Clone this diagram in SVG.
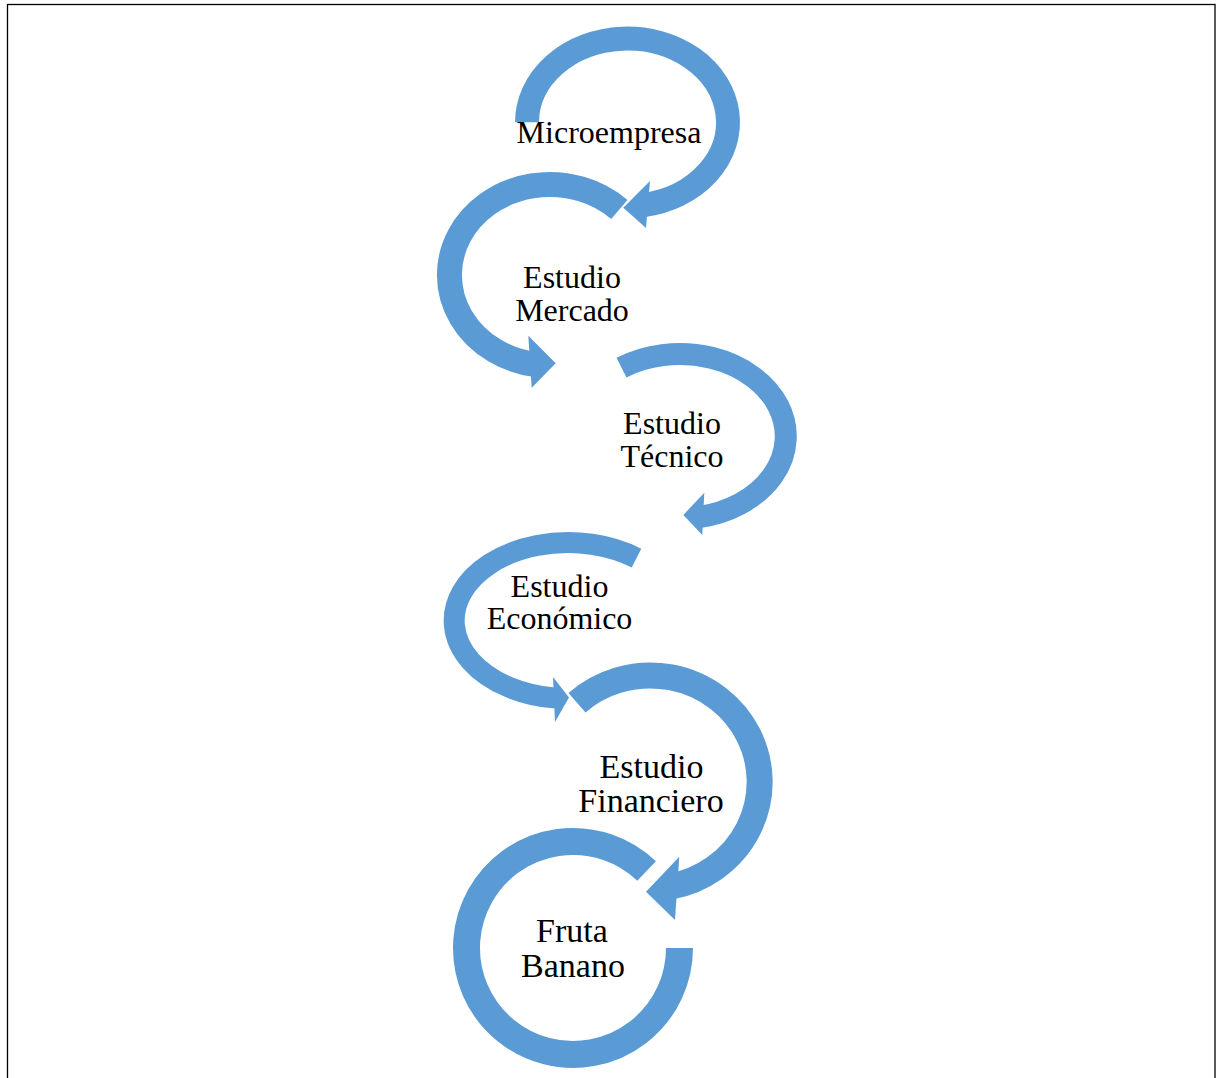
<svg xmlns="http://www.w3.org/2000/svg" width="1216" height="1078" viewBox="0 0 1216 1078">
  <style>
    .arc { fill: none; stroke: #5B9BD5; stroke-linecap: butt; }
    .head { fill: #5B9BD5; stroke: none; }
    .lbl { font-family: "Liberation Serif", "Times New Roman", serif; fill: #000000; text-anchor: middle; }
    .s32 { font-size: 32px; }
    .s34 { font-size: 34px; }
  </style>
  <defs>
    <filter id="soft" x="-10%" y="-10%" width="120%" height="120%">
      <feGaussianBlur stdDeviation="0.7"/>
    </filter>
  </defs>
  <rect x="7.5" y="4.5" width="1207.5" height="1100" fill="#FFFFFF" stroke="#000000" stroke-width="1.3"/>

  <g id="connectors"></g>

  <g id="node-microempresa">
    <path class="arc" stroke-width="24" d="M 527 122.3 A 100.5 83.8 0 1 1 644 205"/>
    <polygon class="head" points="650,181 623.3,207.7 646,228"/>
    <text class="lbl s32" x="609" y="143">Microempresa</text>
  </g>

  <g id="node-estudio-mercado">
    <path class="arc" stroke-width="25" d="M 619.3 209.5 A 100.5 90.5 0 1 0 536 364.6"/>
    <polygon class="head" points="528.3,335.7 555.7,363.3 531.7,387.7"/>
    <text class="lbl s32" x="572" y="288">Estudio</text>
    <text class="lbl s32" x="572" y="320.5">Mercado</text>
  </g>

  <g id="node-estudio-tecnico">
    <g filter="url(#soft)">
      <path class="arc" stroke-width="22" d="M 621.5 367.6 A 106 82.2 0 1 1 699 517.1"/>
      <polygon class="head" points="704.3,492.7 683.3,515 702.3,535"/>
    </g>
    <text class="lbl s32" x="672" y="434">Estudio</text>
    <text class="lbl s32" x="672" y="466.5">Técnico</text>
  </g>

  <g id="node-estudio-economico">
    <path class="arc" stroke-width="21" d="M 636.5 558.1 A 114 78 0 1 0 556 698.1"/>
    <polygon class="head" points="553,677 569,697.5 555,722"/>
    <text class="lbl s32" x="559.5" y="596.5">Estudio</text>
    <text class="lbl s32" x="559.5" y="629">Económico</text>
  </g>

  <g id="node-estudio-financiero">
    <path class="arc" stroke-width="26" d="M 577 702.7 A 109.5 106.5 0 1 1 671 886.5"/>
    <polygon class="head" points="679.3,856.7 646,891.7 675,920"/>
    <text class="lbl s34" x="651.5" y="777.5">Estudio</text>
    <text class="lbl s34" x="651" y="811.5">Financiero</text>
  </g>

  <g id="node-fruta-banano">
    <path class="arc" stroke-width="27" d="M 679.5 948 A 106.5 106.5 0 1 1 646.6 871"/>
    <text class="lbl s34" x="572" y="941.5">Fruta</text>
    <text class="lbl s34" x="573" y="976.5">Banano</text>
  </g>
</svg>
